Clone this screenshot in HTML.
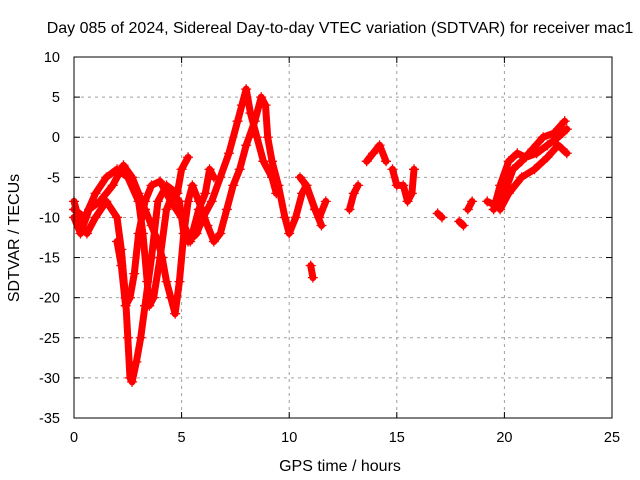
<!DOCTYPE html>
<html><head><meta charset="utf-8"><style>
html,body{margin:0;padding:0;background:#fff;}
svg{display:block;font-family:"Liberation Sans",sans-serif;}
</style></head><body>
<svg id="chart" width="640" height="480" xmlns="http://www.w3.org/2000/svg">
<text x="340" y="33" font-size="16" text-anchor="middle">Day 085 of 2024, Sidereal Day-to-day VTEC variation (SDTVAR) for receiver mac1</text>
<text x="340" y="471" font-size="16" text-anchor="middle">GPS time / hours</text>
<text transform="translate(19,238) rotate(-90)" font-size="16" text-anchor="middle">SDTVAR / TECUs</text>
<g id="grid"></g>
<g id="ticks"></g>
<g id="series"></g>
<rect x="74" y="57" width="538" height="361" fill="none" stroke="#000" stroke-width="1"/>
</svg>
<script>
const xTicks=[0,5,10,15,20,25];
const yTicks=[10,5,0,-5,-10,-15,-20,-25,-30,-35];
const s1=[[0,-8],[0.3,-11],[0.6,-12],[1.0,-10],[1.5,-8],[2.0,-10],[2.2,-14],[2.4,-20],[2.5,-25],[2.6,-30],[2.7,-30.5],[2.9,-28],[3.1,-25],[3.3,-21],[3.6,-15],[3.9,-8],[4.3,-6],[4.8,-7],[5.0,-4],[5.3,-2.5]];
const s2=[[0,-9],[0.5,-10],[1.0,-7],[1.5,-5],[2.0,-4],[2.5,-5],[3.0,-8],[3.2,-12],[3.4,-18],[3.5,-21],[3.7,-20],[4.0,-15],[4.3,-9],[4.6,-7],[4.9,-8],[5.1,-12],[5.3,-13],[5.7,-12],[6.0,-10],[6.4,-8],[6.8,-5],[7.2,-2],[7.6,2],[7.8,4],[8.0,6],[8.2,3],[8.5,0],[8.8,-3],[9.2,-5],[9.4,-7]];
const s3=[[0.0,-10],[0.3,-12],[0.7,-9],[1.2,-8],[1.8,-6],[2.3,-3.5],[2.7,-5],[3.0,-7],[3.3,-9],[3.6,-11],[3.9,-13],[4.1,-15],[4.3,-18],[4.5,-20],[4.7,-22],[4.9,-18],[5.1,-12],[5.3,-8],[5.5,-6],[5.8,-8],[6.2,-11],[6.5,-13],[6.8,-12],[7.1,-9],[7.4,-6],[7.7,-4],[8.0,-1],[8.4,2],[8.7,5],[8.9,4],[9.0,0],[9.2,-3],[9.5,-6],[9.8,-10],[10.0,-12],[10.3,-10],[10.6,-7],[10.8,-6],[11.2,-9],[11.5,-11]];
const s4=[[2.0,-13],[2.2,-16],[2.4,-21],[2.6,-20],[2.8,-17],[3.0,-12],[3.3,-8],[3.6,-6],[4.0,-5.5],[4.5,-8],[5.0,-10],[5.4,-13],[5.8,-9],[6.1,-7],[6.3,-4],[6.5,-5]];
const s5=[[11.0,-16],[11.1,-17.5]];
const s6=[[12.8,-9],[13.0,-7],[13.2,-6]];
const s7=[[13.6,-3],[13.9,-2],[14.2,-1],[14.5,-3]];
const s8=[[14.8,-4],[15.0,-6],[15.3,-6],[15.5,-8],[15.7,-7],[15.8,-4]];
const s9=[[10.5,-5],[10.8,-6],[11.2,-9],[11.4,-10],[11.7,-8]];
const s10=[[16.9,-9.5],[17.1,-10]];
const s11=[[17.9,-10.5],[18.1,-11]];
const s12=[[18.3,-9],[18.5,-8]];
const s13=[[19.2,-8],[19.6,-8.5],[20.0,-7],[20.4,-4],[20.8,-3],[21.3,-1.5],[21.8,0],[22.3,0.5],[22.8,2]];
const s14=[[19.5,-9],[19.8,-6],[20.2,-3],[20.6,-2],[21.0,-2.5],[21.5,-2],[22.0,-1],[22.5,0],[22.9,1]];
const s15=[[19.8,-9],[20.2,-7],[20.8,-5],[21.4,-4],[22.0,-2.5],[22.5,-1],[22.9,-2]];
const allSeries=[s1,s2,s3,s4,s5,s6,s7,s8,s9,s10,s11,s12,s13,s14,s15];

const NS="http://www.w3.org/2000/svg";
const X0=74,X1=612,Y0=418,Y1=57;
function xs(v){return X0+(v-0)/(25-0)*(X1-X0);}
function ys(v){return Y0-(v-(-35))/(10-(-35))*(Y0-Y1);}
function mk(tag,attrs,parent){const e=document.createElementNS(NS,tag);for(const k in attrs)e.setAttribute(k,attrs[k]);parent.appendChild(e);return e;}
const grid=document.getElementById('grid'),ticks=document.getElementById('ticks'),ser=document.getElementById('series');
xTicks.forEach(t=>{
  const x=xs(t);
  if(t>0&&t<25){const g=mk('line',{x1:x,x2:x,y1:Y1,y2:Y0,stroke:'#a0a0a0','stroke-dasharray':'3,4'},grid);
  
  }
  mk('line',{x1:x,x2:x,y1:Y0,y2:Y0-6,stroke:'#000'},ticks);
  mk('line',{x1:x,x2:x,y1:Y1,y2:Y1+6,stroke:'#000'},ticks);
  const l=mk('text',{x:x,y:Y0+24,'font-size':'14.5','text-anchor':'middle'},ticks);l.textContent=t;
  
  
});
yTicks.forEach(t=>{
  const y=ys(t);
  if(t<10&&t>-35){const g=mk('line',{x1:X0,x2:X1,y1:y,y2:y,stroke:'#a0a0a0','stroke-dasharray':'3,4'},grid);
  
  }
  mk('line',{x1:X0,x2:X0+6,y1:y,y2:y,stroke:'#000'},ticks);
  mk('line',{x1:X1,x2:X1-6,y1:y,y2:y,stroke:'#000'},ticks);
  const l=mk('text',{x:X0-14,y:y+5,'font-size':'14.5','text-anchor':'end'},ticks);l.textContent=t;
  
  
});
allSeries.forEach((s,i)=>{
  const pts=s.map(p=>xs(p[0]).toFixed(1)+','+ys(p[1]).toFixed(1)).join(' ');
  const pl=mk('polyline',{points:pts,fill:'none',stroke:'#ff0000','stroke-width':'7','stroke-linejoin':'round','stroke-linecap':'round'},ser);
  
  
  s.forEach(p=>{
    const x=xs(p[0]),y=ys(p[1]);
    const m=mk('path',{d:`M${x-5},${y}H${x+5}M${x},${y-5}V${y+5}`,stroke:'#ff0000','stroke-width':'1.3'},ser);
    
    
  });
});
</script>
</body></html>
